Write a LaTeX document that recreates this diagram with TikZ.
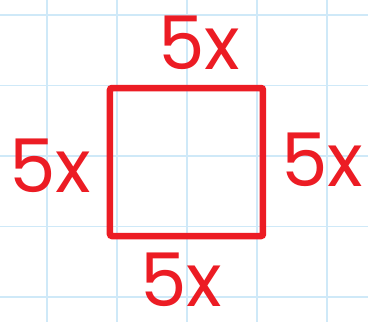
\documentclass[tikz,border=0pt]{standalone}
\usepackage{fontspec}
\setmainfont{Poppins}
\usepackage{tikz}
\definecolor{penred}{HTML}{EC1C24}
\definecolor{gridblue}{HTML}{CFE9F8}

\begin{document}
\begin{tikzpicture}[
  x=1pt,y=-1pt,
  side/.style={draw=penred,line width=6.5pt,rounded corners=2pt,
    minimum width=153pt,minimum height=148pt,inner sep=0pt},
  lbl/.style={text=penred,font=\fontsize{74}{76}\selectfont,inner sep=0pt,
    text height=52pt,text depth=0pt}
]
  \useasboundingbox (0,0) rectangle (368,322);
  \fill[white] (0,0) rectangle (368,322);
  \foreach \i in {0,...,4} {
    \draw[gridblue,line width=1.5pt] (47+70*\i,0) -- (47+70*\i,322);
    \draw[gridblue,line width=1.5pt] (0,15+70.5*\i) -- (368,15+70.5*\i);
  }

  \node[side] (sq) at (186.5,162) {};
  \node[lbl] (top) at (199,43) {5x};
  \node[lbl] (left) at (50,166) {5x};
  \node[lbl] (right) at (322,160) {5x};
  \node[lbl] (bottom) at (181,280) {5x};
\end{tikzpicture}
\end{document}
